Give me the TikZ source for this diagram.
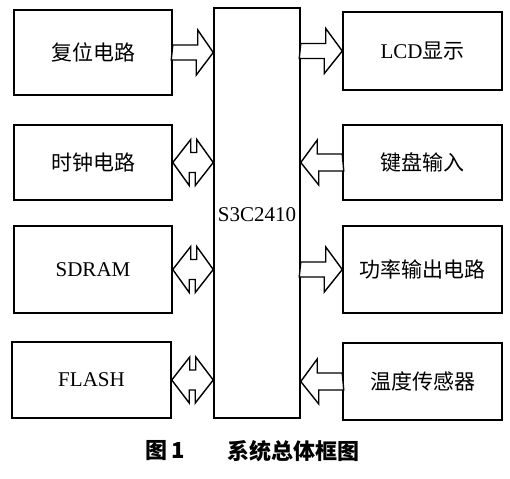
\documentclass[tikz,border=0pt]{standalone}
\usepackage{fontspec}
\setmainfont{Liberation Serif}
\newfontfamily\cjk{Noto Sans CJK SC}
\usetikzlibrary{calc}
\tikzset{
  box/.style={draw=black, line width=1.5pt, fill=white, inner sep=0pt, font=\fontsize{21}{24}\selectfont},
  arr/.style={draw=black, line width=1.4pt, fill=white, line join=miter},
}
\begin{document}
\begin{tikzpicture}[x=1pt,y=-1pt]
\useasboundingbox (0,0) rectangle (510,478);
% left column
\node[box, minimum width=158pt, minimum height=85pt] (reset) at (93,52.5) {\cjk 复位电路};
\node[box, minimum width=158pt, minimum height=75pt] (clock) at (93,162.5) {\cjk 时钟电路};
\node[box, minimum width=158pt, minimum height=87pt] (sdram) at (93,269.5) {SDRAM};
\node[box, minimum width=159pt, minimum height=76pt] (flash) at (91.5,380) {FLASH};
% CPU
\node[box, minimum width=86pt, minimum height=410pt] (cpu) at (257,213) {};
\node[font=\fontsize{21}{24}\selectfont, inner sep=0pt] (cpulbl) at (257,215) {S3C2410};
% right column
\node[box, minimum width=159pt, minimum height=78pt] (lcd) at (422.5,51) {LCD\cjk 显示};
\node[box, minimum width=159pt, minimum height=75pt] (kbd) at (422.5,162.5) {\cjk 键盘输入};
\node[box, minimum width=159pt, minimum height=87pt] (power) at (422.5,269.5) {\cjk 功率输出电路};
\node[box, minimum width=159pt, minimum height=77pt] (temp) at (422.5,381.5) {\cjk 温度传感器};
% arrows: left side
\draw[arr] ($(reset.east)+(0,-7.5)$) -- ++(25,0) -- ++(0,-15) -- (cpu.west |- reset.east) -- ++(-17,22.5) -- ++(0,-15) -- ++(-25,0) -- cycle;
\foreach \n in {clock,sdram,flash}{
  \draw[arr] (\n.east) -- ++(18,-23) -- ++(0,13) -- ++(6,0) -- ++(0,-13) -- (cpu.west |- \n.east) -- ++(-18,23) -- ++(0,-13) -- ++(-6,0) -- ++(0,13) -- cycle;
}
% arrows: right side
\foreach \n in {lcd,power}{
  \draw[arr] ($(cpu.east |- \n.west)+(0,-7.5)$) -- ++(25,0) -- ++(0,-15) -- (\n.west) -- ++(-18,22.5) -- ++(0,-15) -- ++(-25,0) -- cycle;
}
\foreach \n in {kbd,temp}{
  \draw[arr] ($(\n.west)+(0,-8.5)$) -- ++(-25,0) -- ++(0,-14) -- (cpu.east |- \n.west) -- ++(18,22.5) -- ++(0,-14) -- ++(25,0) -- cycle;
}
% caption
\node[font=\cjk\bfseries\fontsize{22}{24}\selectfont, inner sep=0pt] (fig) at (165,451) {图\,1};
\node[font=\cjk\bfseries\fontsize{22}{24}\selectfont, inner sep=0pt] (cap) at (293,451) {系统总体框图};
\end{tikzpicture}
\end{document}
